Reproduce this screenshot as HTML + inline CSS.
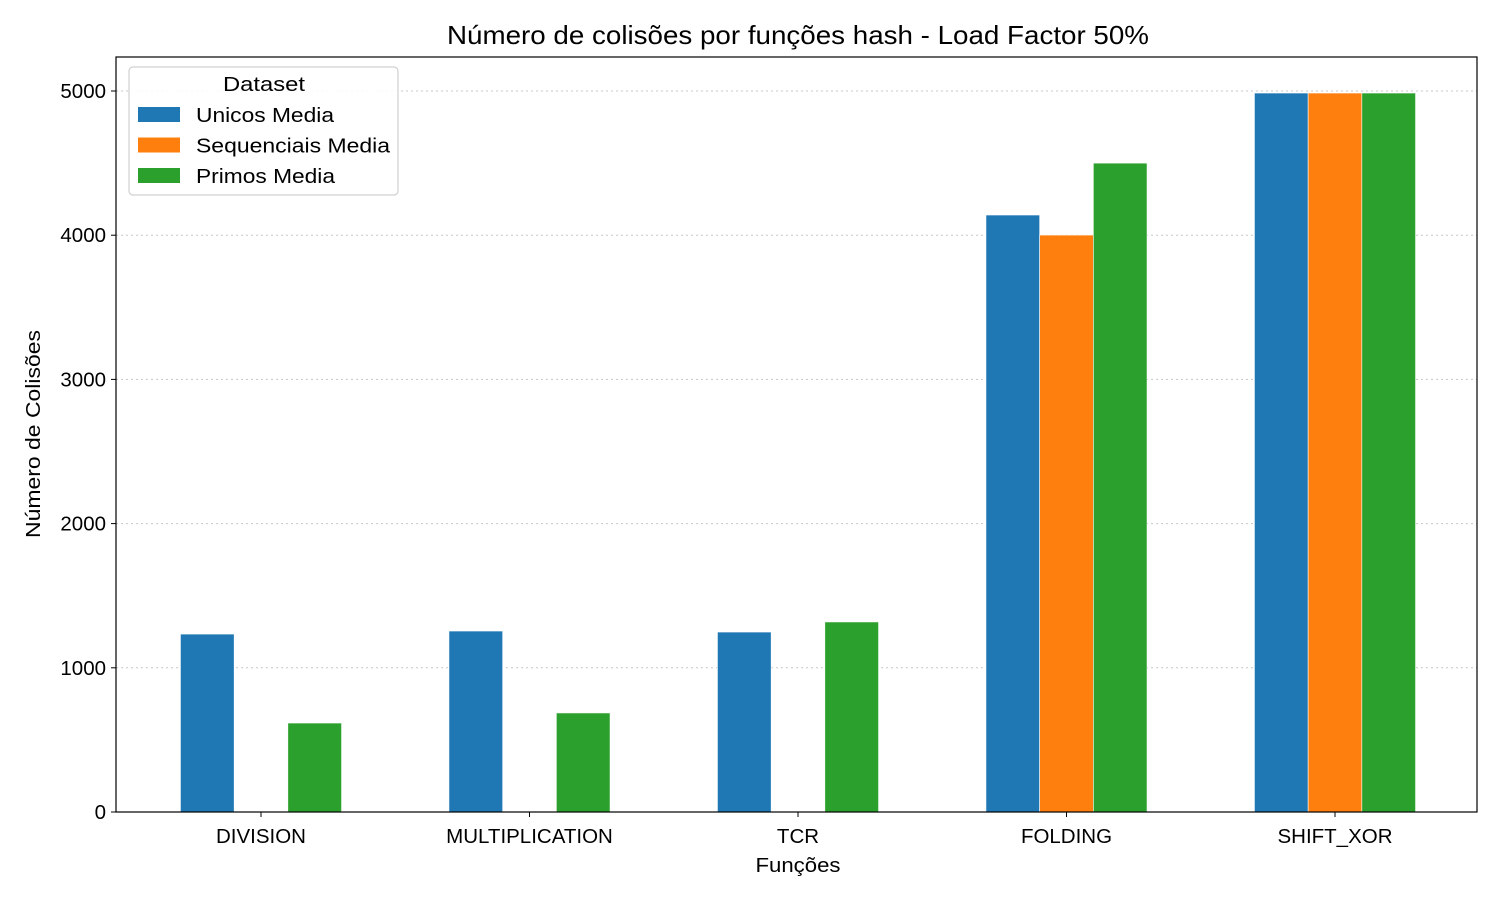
<!DOCTYPE html>
<html><head><meta charset="utf-8"><style>
body{margin:0;background:#fff;}
svg{font-family:"Liberation Sans",sans-serif;}
</style></head><body>
<svg id="chart" width="1500" height="900" viewBox="0 0 1500 900">
<rect width="1500" height="900" fill="#fff"/>
<g id="grid"></g><g id="bars"></g><g id="axes"></g><g id="legend"></g>
</svg>
<script>
const categories = ["DIVISION","MULTIPLICATION","TCR","FOLDING","SHIFT_XOR"];
const seriesNames = ["Unicos Media","Sequenciais Media","Primos Media"];
const unicos = [1234,1255,1248,4140,4986];
const sequenciais = [0,0,0,4001,4986];
const primos = [617,687,1318,4500,4986];
const yTicks = [0,1000,2000,3000,4000,5000];
const colors = ["#1f77b4","#ff7f0e","#2ca02c"];
const series = [unicos, sequenciais, primos];

const NS="http://www.w3.org/2000/svg";
const L=116,R=1477,T=57,B=812;
const step=268.5, firstC=261;
const FS=20.5;
const legendLens=[138,194,139];
function xC(i){return firstC+i*step;}
function y(v){return B-(v/5000)*(B-91);}
function mk(tag,attrs,parent,text){const e=document.createElementNS(NS,tag);for(const k in attrs)e.setAttribute(k,attrs[k]);if(text!==undefined)e.textContent=text;parent.appendChild(e);return e;}
const grid=document.getElementById('grid'),bars=document.getElementById('bars'),axes=document.getElementById('axes'),leg=document.getElementById('legend');
yTicks.forEach(t=>{
  const g=mk('line',{x1:L,x2:R,y1:y(t),y2:y(t),stroke:'#b0b0b0','stroke-width':1,'stroke-dasharray':'2,3',opacity:0.7},grid);
  
  
  mk('line',{x1:L-5,x2:L,y1:y(t),y2:y(t),stroke:'#000','stroke-width':1},axes);
  const tl=mk('text',{x:L-10,y:y(t)+7,'text-anchor':'end','font-size':FS},axes,String(t));
  
  
});
const bw=step*0.2;
series.forEach((s,si)=>{
  s.forEach((v,i)=>{
    const x=xC(i)+(si-1)*bw-bw/2;
    const r=mk('rect',{x:x,y:y(v),width:bw,height:B-y(v),fill:colors[si],stroke:'#fff','stroke-width':0.6},bars);
    
    
  });
});
categories.forEach((c,i)=>{
  mk('line',{x1:xC(i),x2:xC(i),y1:B,y2:B+5,stroke:'#000'},axes);
  const t=mk('text',{x:xC(i),y:B+31,'text-anchor':'middle','font-size':FS},axes,c);
  
  
});
const fr=mk('rect',{x:L,y:T,width:R-L,height:B-T,fill:'none',stroke:'#000','stroke-width':1.2},axes);


const tt=mk('text',{x:798,y:44,'text-anchor':'middle','font-size':26,textLength:702,lengthAdjust:'spacingAndGlyphs'},axes,'Número de colisões por funções hash - Load Factor 50%');


const xt=mk('text',{x:798,y:872,'text-anchor':'middle','font-size':FS,textLength:85,lengthAdjust:'spacingAndGlyphs'},axes,'Funções');


const yt=mk('text',{x:40,y:434,'text-anchor':'middle','font-size':FS,textLength:208,lengthAdjust:'spacingAndGlyphs',transform:'rotate(-90 40 434)'},axes,'Número de Colisões');


const lb=mk('rect',{x:129,y:67,width:269,height:128,rx:4,fill:'#fff',stroke:'#ccc','stroke-width':1.2,opacity:0.9},leg);


const lt=mk('text',{x:264,y:91,'text-anchor':'middle','font-size':FS,textLength:82,lengthAdjust:'spacingAndGlyphs'},leg,'Dataset');


seriesNames.forEach((n,i)=>{
  const yy=114+i*30.5;
  const sw=mk('rect',{x:138,y:yy-7,width:42,height:15,fill:colors[i]},leg);
  
  
  const tx=mk('text',{x:196,y:yy+8,'font-size':FS,textLength:legendLens[i],lengthAdjust:'spacingAndGlyphs'},leg,n);
  
  
});
</script>
</body></html>
